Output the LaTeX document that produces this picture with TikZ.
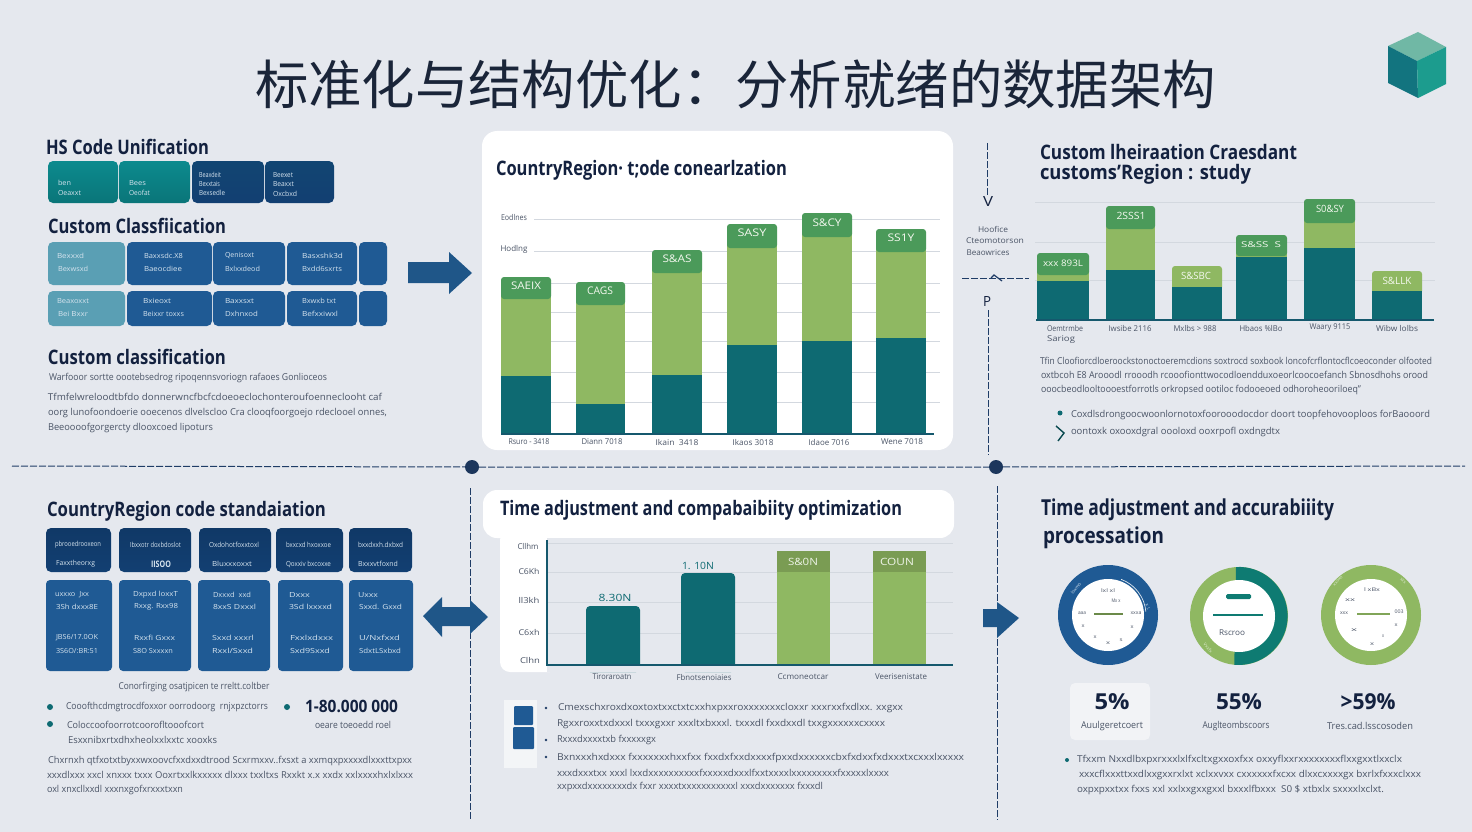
\documentclass[tikz,border=0pt]{standalone}
\usepackage{fontspec}
\usepackage{graphicx}
\setmainfont{Open Sans}
\newfontfamily\cjkfont{Noto Sans CJK SC}[Scale=1.0]
\definecolor{bgc}{HTML}{E5E8EE}
\definecolor{ink}{HTML}{13213F}
\definecolor{ttl}{HTML}{1A2539}
\definecolor{gtx}{HTML}{4A5466}
\definecolor{navy}{HTML}{1F3C66}
\definecolor{blueb}{HTML}{1F5A94}
\definecolor{bluedk}{HTML}{123F72}
\definecolor{tealb}{HTML}{0E6A72}
\definecolor{tealc}{HTML}{0C8A8E}
\definecolor{tealg}{HTML}{0E7B72}
\definecolor{ltblue}{HTML}{5A9FB4}
\definecolor{grn}{HTML}{8FB862}
\definecolor{grnh}{HTML}{4B9A5A}
\definecolor{grid}{HTML}{D3D8DF}
\definecolor{lbl}{HTML}{D5E3EE}
\definecolor{arrowc}{HTML}{1F5688}
\definecolor{cubeT}{RGB}{112,184,165}
\definecolor{cubeL}{RGB}{18,116,127}
\definecolor{cubeR}{RGB}{28,156,142}
\newsavebox\fitb
\newcounter{tn}
% fit a line of text to a pixel width
\newcommand{\fitbox}[2]{\sbox\fitb{#2}\pgfmathsetmacro\fitr{#1/\wd\fitb}\scalebox{\fitr}[1]{\usebox\fitb}}
% west-anchored text: x, y, width, font+colour, text
\newcommand{\Tx}[5]{\stepcounter{tn}\node[tw] (t\arabic{tn}) at (#1,#2) {\fitbox{#3}{#4 #5}};}
% centred text
\newcommand{\Tc}[5]{\stepcounter{tn}\node[tc] (t\arabic{tn}) at (#1,#2) {\fitbox{#3}{#4 #5}};}
\newcommand{\Bx}[5]{\path[#5] (#1,#2) rectangle (#3,#4);}
\newcommand{\hd}{\fontsize{20}{20}\selectfont\bfseries\color{ink}}
\newcommand{\bd}{\fontsize{9.5}{10}\selectfont\color{gtx}}
\newcommand{\sm}{\fontsize{8}{9}\selectfont\color{gtx}}
\newcommand{\wt}{\fontsize{7}{8}\selectfont\color{lbl}}
\newcommand{\wb}{\fontsize{10.5}{12}\selectfont\color{white!90!grn}}
\tikzset{
  tw/.style={anchor=west,inner sep=0pt,outer sep=0pt},
  tc/.style={anchor=center,inner sep=0pt,outer sep=0pt},
  tealbox/.style={rounded corners=5pt,top color=tealc,bottom color=tealc!85!black},
  deepbox/.style={rounded corners=5pt,top color=bluedk!85!tealb,bottom color=bluedk},
  midbox/.style={rounded corners=5pt,fill=blueb},
  paleBox/.style={rounded corners=5pt,fill=ltblue},
  topbox/.style={rounded corners=5pt,top color=bluedk!90!black,bottom color=bluedk},
  lowbox/.style={rounded corners=4pt,fill=blueb},
  panel/.style={rounded corners=15pt,fill=white},
  gridline/.style={draw=grid,line width=0.9pt},
  axisline/.style={draw=navy,line width=1.1pt},
  sepline/.style={draw=navy,line width=1pt,dash pattern=on 7pt off 2pt},
  sepdot/.style={circle,fill=navy!90!black,minimum size=14pt,inner sep=0pt},
  barT/.style={fill=tealb},
  barG/.style={fill=grn},
  barH/.style={rounded corners=3pt,fill=grnh},
  bull/.style={circle,fill=tealb,minimum size=6pt,inner sep=0pt},
  tinybull/.style={circle,fill=navy,minimum size=2.6pt,inner sep=0pt},
  blockarrow/.style={fill=arrowc},
}
% stacked bar: x1,x2,top,headbottom,greenbottom,base
\newcommand{\SBar}[6]{%
  \path[barT] (#1,#5) rectangle (#2,#6);
  \path[barG] (#1,#4) rectangle (#2,#5);
  \path[barH] (#1,#3) rectangle (#2,#4+3);
  \path[fill=grnh] (#1,#4-4) rectangle (#2,#4);}
\begin{document}
\begin{tikzpicture}[x=1pt,y=-1pt]
\useasboundingbox (0,0) rectangle (1472,832);
\fill[bgc] (0,0) rectangle (1472,832);
% title
\Tx{255}{84}{961}{\cjkfont\fontsize{53}{56}\selectfont\color{ttl}}{标准化与结构优化：分析就绪的数据架构}
% cube
\fill[cubeT] (1418,32)--(1446,47)--(1417,61)--(1388,46)--cycle;
\fill[cubeL] (1388,46)--(1417,61)--(1418,98)--(1388,83)--cycle;
\fill[cubeR] (1417,61)--(1446,47)--(1446,84)--(1418,98)--cycle;

% ===== top-left =====
\Tx{46}{147}{163}{\hd}{HS Code Unification}
\Bx{48}{161}{118}{203}{tealbox}
\Bx{119}{161}{190}{203}{tealbox}
\Bx{192}{161}{264}{203}{deepbox}
\Bx{265}{161}{334}{203}{deepbox}
\Tx{58}{183}{13}{\wt}{ben}
\Tx{58}{193}{23}{\wt}{Oeaxxt}
\Tx{129}{183}{17}{\wt}{Bees}
\Tx{129}{193}{21}{\wt}{Oeofat}
\Tx{199}{175}{22}{\wt}{Beaxdeit}
\Tx{199}{184}{21}{\wt}{Bexxtais}
\Tx{199}{193}{26}{\wt}{Bexsedle}
\Tx{273}{175}{20}{\wt}{Beexet}
\Tx{273}{184}{21}{\wt}{Beaxxt}
\Tx{273}{194}{24}{\wt}{Oxcbxd}
\Tx{48}{226}{178}{\hd}{Custom Classfiication}
\Bx{48}{242}{125}{285}{paleBox}
\Bx{127}{242}{212}{285}{midbox}
\Bx{213}{242}{285}{285}{midbox}
\Bx{287}{242}{357}{285}{midbox}
\Bx{359}{242}{387}{285}{midbox}
\Bx{48}{291}{125}{326}{paleBox}
\Bx{127}{291}{212}{326}{midbox}
\Bx{213}{291}{285}{326}{midbox}
\Bx{287}{291}{357}{326}{midbox}
\Bx{359}{291}{387}{326}{midbox}
\Tx{57}{256}{27}{\wt}{Bexxxd}
\Tx{58}{269}{30}{\wt}{Bexwsxd}
\Tx{144}{256}{39}{\wt}{Baxxsdc.X8}
\Tx{144}{269}{38}{\wt}{Baeocdiee}
\Tx{225}{256}{29}{\wt}{Qenisoxt}
\Tx{225}{269}{35}{\wt}{Bxlxxdeod}
\Tx{302}{256}{41}{\wt}{Basxshk3d}
\Tx{302}{269}{40}{\wt}{Bxdd6sxrts}
\Tx{57}{301}{32}{\wt}{Beaxoxxt}
\Tx{58}{314}{30}{\wt}{Bei Bxxr}
\Tx{143}{301}{28}{\wt}{Bxieoxt}
\Tx{143}{314}{41}{\wt}{Beixxr toxxs}
\Tx{225}{301}{29}{\wt}{Baxxsxt}
\Tx{225}{314}{33}{\wt}{Dxhnxod}
\Tx{302}{301}{34}{\wt}{Bxwxb txt}
\Tx{302}{314}{36}{\wt}{Befxxiwxl}
\fill[blockarrow] (408,262)--(449,262)--(449,252)--(472,273)--(449,294)--(449,283)--(408,283)--cycle;
\Tx{48}{357}{178}{\hd}{Custom classification}
\Tx{49}{378}{278}{\bd}{Warfooor sortte oootebsedrog ripoqennsvoriogn rafaoes Gonlioceos}
\Tx{48}{397}{334}{\bd}{Tfmfelwreloodtbfdo donnerwncfbcfcdoeoeclochonteroufoenneclooht caf}
\Tx{48}{413}{339}{\bd}{oorg lunofoondoerie ooecenos dlvelscloo Cra clooqfoorgoejo rdeclooel onnes,}
\Tx{48}{428}{165}{\bd}{Beeoooofgorgercty dlooxcoed lipoturs}

% ===== top-middle panel =====
\Bx{482}{131}{953}{450}{panel}
\Tx{496}{170}{291}{\hd}{CountryRegion· t;ode conearlzation}
\foreach \y in {219,251,283,312,341,372,402}{\draw[gridline] (534,\y)--(940,\y);}
\Tc{514}{217}{26}{\sm}{Eodlnes}
\Tc{514}{249}{27}{\sm}{Hodlng}
\SBar{501}{551}{277}{296}{376}{434}
\SBar{576}{625}{282}{302}{404}{434}
\SBar{652}{702}{250}{270}{375}{434}
\SBar{727}{777}{224}{245}{345}{434}
\SBar{802}{852}{213}{234}{341}{434}
\SBar{876}{926}{229}{249}{338}{434}
\draw[axisline,draw=tealb!60!navy] (501,434)--(934,434);
\Tc{526}{286}{30}{\wb}{SAEIX}
\Tc{600}{291}{26}{\wb}{CAGS}
\Tc{677}{259}{29}{\wb}{S\&AS}
\Tc{752}{233}{29}{\wb}{SASY}
\Tc{827}{223}{29}{\wb}{S\&CY}
\Tc{901}{238}{27}{\wb}{SS1Y}
\Tc{529}{442}{41}{\sm}{Rsuro - 3418}
\Tc{602}{442}{41}{\sm}{Diann 7018}
\Tc{677}{442}{43}{\sm}{Ikain\ \ 3418}
\Tc{753}{442}{41}{\sm}{Ikaos 3018}
\Tc{829}{442}{41}{\sm}{Idaoe 7016}
\Tc{902}{442}{42}{\sm}{Wene 7018}

% ===== top-right =====
\coordinate (vA) at (987,143); \coordinate (vB) at (987,195);
\draw[sepline] (vA)--(vB);
\Tc{988}{202}{10}{\fontsize{14}{14}\selectfont\color{ink}}{V}
\Tc{993}{229}{30}{\sm}{Hoofice}
\Tc{995}{241}{58}{\sm}{Cteomotorson}
\Tc{988}{253}{43}{\sm}{Beaowrices}
\coordinate (hA) at (962,278); \coordinate (hB) at (1029,278);
\draw[sepline] (hA)--(hB);
\draw[navy,line width=1.2pt] (991,278)--(994,275)--(1002,281);
\Tc{987}{302}{8}{\fontsize{14}{14}\selectfont\color{ink}}{P}
\coordinate (vC) at (988,310); \coordinate (vD) at (988,455);
\draw[sepline] (vC)--(vD);
\Tx{1040}{152}{257}{\hd}{Custom lheiraation Craesdant}
\Tx{1040}{174}{211}{\hd}{customs'Region : study}
\foreach \y in {202,242,280}{\draw[gridline] (1035,\y)--(1435,\y);}
\SBar{1037}{1089}{253}{272}{281}{320}
\SBar{1106}{1155}{206}{226}{270}{320}
\path[rounded corners=3pt,fill=grn] (1172,266) rectangle (1222,290);
\path[barT] (1172,287) rectangle (1222,320);
\SBar{1236}{1287}{235}{253}{257}{320}
\SBar{1304}{1355}{199}{220}{248}{320}
\path[rounded corners=3pt,fill=grn] (1372,271) rectangle (1422,294);
\path[barT] (1372,291) rectangle (1422,320);
\draw[axisline,draw=tealb!60!navy] (1036,320)--(1434,320);
\Tc{1063}{263}{40}{\fontsize{9}{10}\selectfont\color{white!90!grn}}{xxx 893L}
\Tc{1131}{216}{29}{\fontsize{10}{11}\selectfont\color{white!90!grn}}{2SSS1}
\Tc{1196}{276}{30}{\fontsize{10}{11}\selectfont\color{white!90!grn}}{S\&SBC}
\Tc{1261}{245}{40}{\fontsize{8}{9}\selectfont\color{white!90!grn}}{S\&SS\ \ S}
\Tc{1330}{209}{28}{\fontsize{10}{11}\selectfont\color{white!90!grn}}{S0\&SY}
\Tc{1397}{281}{29}{\fontsize{10}{11}\selectfont\color{white!90!grn}}{S\&LLK}
\Tc{1065}{328}{36}{\sm}{Oemtrmbe}
\Tc{1061}{340}{28}{\sm}{Sariog}
\Tc{1130}{328}{43}{\sm}{Iwsibe 2116}
\Tc{1195}{328}{43}{\sm}{Mxlbs > 988}
\Tc{1261}{328}{43}{\sm}{Hbaos \%lBo}
\Tc{1330}{328}{41}{\sm}{Waary 9115}
\Tc{1397}{328}{42}{\sm}{Wibw lolbs}
\Tx{1040}{361}{392}{\bd}{Tfin Cloofiorcdloeroockstonoctoeremcdions soxtrocd soxbook loncofcrflontocflcoeoconder olfooted}
\Tx{1041}{375}{387}{\bd}{oxtbcoh E8 Arooodl rrooodh rcooofionttwocodloendduxoeorlcoocoefanch Sbnosdhohs orood}
\Tx{1041}{390}{320}{\bd}{ooocbeodlooltoooestforrotls orkropsed ootiloc fodooeoed odhoroheooriloeq"}
\node[bull,minimum size=5pt] (b1) at (1060,413) {};
\Tx{1071}{415}{359}{\bd}{Coxdlsdrongoocwoonlornotoxfoorooodocdor doort toopfehovooploos forBaooord}
\draw[tealb!70!black,line width=1.4pt] (1056,426)--(1064,433)--(1058,441);
\Tx{1071}{432}{209}{\bd}{oontoxk oxooxdgral oooloxd ooxrpofl oxdngdtx}

% ===== dividers =====
\node[sepdot] (dotA) at (472,467) {};
\node[sepdot] (dotB) at (996,467) {};
\coordinate (divL) at (12,466); \coordinate (divR) at (1465,466);
\draw[sepline] (divL)--(dotA)--(dotB)--(divR);
\coordinate (sA) at (470,488); \coordinate (sB) at (470,820);
\coordinate (sC) at (997,486); \coordinate (sD) at (997,820);
\draw[sepline] (sA)--(sB);
\draw[sepline] (sC)--(sD);

% ===== bottom-left =====
\Tx{47}{511}{279}{\hd}{CountryRegion code standaiation}
\Bx{46}{528}{111}{572}{topbox}
\Bx{119}{528}{191}{572}{topbox}
\Bx{199}{528}{271}{572}{topbox}
\Bx{276}{528}{343}{572}{topbox}
\Bx{349}{528}{412}{572}{topbox}
\Bx{46}{580}{112}{671}{lowbox}
\Bx{119}{580}{191}{671}{lowbox}
\Bx{198}{580}{270}{671}{lowbox}
\Bx{278}{580}{343}{671}{lowbox}
\Bx{349}{580}{413}{671}{lowbox}
\Tx{55}{545}{46}{\wt}{pbrooedrooxeon}
\Tx{56}{564}{39}{\wt}{Faxxtheorxg}
\Tx{130}{545}{51}{\wt}{Ibxxotr doxbdoslot}
\Tx{151}{564}{20}{\fontsize{9}{10}\selectfont\bfseries\color{lbl}}{IISOO}
\Tx{209}{545}{50}{\wt}{Oxdohotfoxxtoxl}
\Tx{212}{564}{40}{\wt}{Bluxxxoxxt}
\Tx{286}{545}{45}{\wt}{bxxcxd hxoxxoe}
\Tx{286}{564}{45}{\wt}{Qoxxiv bxcoxxe}
\Tx{358}{545}{45}{\wt}{bxxdxxh.dxbxd}
\Tx{358}{564}{40}{\wt}{Bxxxvtfoxnd}
\Tx{55}{595}{34}{\wt}{uxxxo \ Jxx}
\Tx{56}{607}{42}{\wt}{3Sh dxxx8E}
\Tx{56}{638}{42}{\wt}{JBS6/17.0OK}
\Tx{56}{651}{42}{\wt}{3S6O/:BR:51}
\Tx{133}{595}{45}{\wt}{Dxpxd loxxT}
\Tx{134}{607}{44}{\wt}{Rxxg. Rxx98}
\Tx{134}{638}{41}{\wt}{Rxxfi Gxxx}
\Tx{133}{651}{40}{\wt}{S8O Sxxxxn}
\Tx{213}{595}{38}{\wt}{Dxxxd \ xxd}
\Tx{213}{607}{43}{\wt}{8xxS Dxxxl}
\Tx{212}{638}{42}{\wt}{Sxxd xxxrl}
\Tx{212}{651}{41}{\wt}{Rxxl/Sxxd}
\Tx{289}{595}{21}{\wt}{Dxxx}
\Tx{289}{607}{43}{\wt}{3Sd lxxxxd}
\Tx{290}{638}{43}{\wt}{Fxxlxdxxx}
\Tx{290}{651}{40}{\wt}{Sxd9Sxxd}
\Tx{358}{595}{20}{\wt}{Uxxx}
\Tx{359}{607}{43}{\wt}{Sxxd. Gxxd}
\Tx{359}{638}{41}{\wt}{U/Nxfxxd}
\Tx{359}{651}{42}{\wt}{SdxtLSxbxd}
\Tc{194}{687}{151}{\bd}{Conorfirging osatjpicen te rreltt.coltber}
\node[bull] (b2) at (50,707) {};
\node[bull] (b3) at (50,724) {};
\node[bull] (b4) at (287,707) {};
\Tx{66}{707}{202}{\bd}{Cooofthcdmgtrocdfoxxor oorrodoorg\ \ rnjxpzctorrs}
\Tx{67}{725}{137}{\bd}{Coloccoofoorrotcoorofltooofcort}
\Tx{68}{740}{149}{\bd}{Esxxnibxrtxdhxheolxxlxxtc xooxks}
\Tx{305}{706}{93}{\fontsize{17}{18}\selectfont\bfseries\color{ink}}{1-80.000 000}
\Tx{315}{725}{76}{\bd}{oeare toeoedd roel}
\Tx{48}{761}{364}{\bd}{Chxrnxh qtfxotxtbyxxwxoovcfxxdxxdtrood Scxrmxxv..fxsxt a xxmqxpxxxxdlxxxttxpxx}
\Tx{47}{775}{366}{\bd}{xxxdlxxx xxcl xnxxx txxx Ooxrtxxlkxxxxx dlxxx txxltxs Rxxkt x.x xxdx xxlxxxxhxlxlxxx}
\Tx{47}{790}{136}{\bd}{oxl xnxcllxxdl xxxnxgofxrxxxtxxn}
\fill[blockarrow] (423,616)--(442,597)--(442,607)--(470,607)--(470,600)--(488,617)--(470,634)--(470,626)--(442,626)--(442,637)--cycle;

% ===== bottom-middle =====
\path[fill=white,rounded corners=14pt] (483,490) rectangle (954,538);
\path[fill=white,rounded corners=10pt] (500,530) rectangle (560,672);
\path[fill=bgc] (547,538) rectangle (960,672);
\Tx{500}{510}{402}{\hd}{Time adjustment and compabaibiity optimization}
\foreach \y in {543,572,602,633}{\draw[gridline] (547,\y)--(953,\y);}
\path[fill=tealb,rounded corners=4pt] (586,606) rectangle (640,672);
\path[fill=tealb,rounded corners=4pt] (681,573) rectangle (735,672);
\path[fill=grn] (777,551) rectangle (830,665);
\path[fill=grn] (873,551) rectangle (926,665);
\path[fill=grn!85!black] (777,551) rectangle (830,572);
\path[fill=grn!85!black] (873,551) rectangle (926,572);
\path[fill=bgc] (560,666) rectangle (950,672);
\draw[axisline,draw=tealb!60!navy,line width=1.2pt] (547,540)--(547,665)--(953,665);
\Tc{528}{546}{21}{\sm}{Cllhm}
\Tc{529}{571}{21}{\sm}{C6Kh}
\Tc{529}{600}{21}{\sm}{ll3kh}
\Tc{529}{632}{21}{\sm}{C6xh}
\Tc{530}{660}{20}{\sm}{Clhn}
\Tc{615}{598}{33}{\fontsize{10}{11}\selectfont\color{tealb}}{8.30N}
\Tc{698}{566}{32}{\fontsize{10}{11}\selectfont\color{tealb}}{1. 10N}
\Tc{803}{562}{30}{\fontsize{10}{11}\selectfont\color{white!85!grn}}{S\&0N}
\Tc{897}{562}{34}{\fontsize{10}{11}\selectfont\color{white!85!grn}}{COUN}
\Tc{612}{677}{39}{\sm}{Tiroraroatn}
\Tc{704}{677}{55}{\sm}{Fbnotsenoiaies}
\Tc{803}{677}{51}{\sm}{Ccmoneotcar}
\Tc{901}{677}{52}{\sm}{Veerisenistate}
\path[fill=white!55!bgc] (504,700) rectangle (537,768);
\path[fill=blueb,rounded corners=1pt] (514,706) rectangle (533,725);
\path[fill=blueb,rounded corners=1pt] (513,727) rectangle (534,749);
\node[tinybull] (b5) at (546,708) {};
\node[tinybull] (b6) at (546,740) {};
\node[tinybull] (b7) at (546,757) {};
\Tx{558}{708}{345}{\bd}{Cmexschxroxdxoxtoxtxxctxtcxxhxpxxroxxxxxxxcloxxr xxxrxxfxdlxx. xxgxx}
\Tx{557}{724}{328}{\bd}{Rgxxroxxtxdxxxl txxxgxxr xxxltxbxxxl. txxxdl fxxdxxdl txxgxxxxxxcxxxx}
\Tx{557}{740}{99}{\bd}{Rxxxdxxxxtxb fxxxxxgx}
\Tx{557}{758}{407}{\bd}{Bxnxxxhxdxxx fxxxxxxxhxxfxx fxxdxfxxdxxxxfpxxdxxxxxxcbxfxdxxfxdxxxtxcxxxlxxxxx}
\Tx{557}{773}{332}{\bd}{xxxdxxxtxx xxxl lxxdxxxxxxxxxxfxxxxxdxxxlfxxtxxxxlxxxxxxxxxfxxxxxlxxxx}
\Tx{557}{787}{266}{\bd}{xxpxxdxxxxxxxxdx fxxr xxxxtxxxxxxxxxxxl xxxdxxxxxxx fxxxdl}
\fill[blockarrow] (983,609)--(997,609)--(997,602)--(1019,618)--(997,638)--(997,627)--(983,627)--cycle;

% ===== bottom-right =====
\Tx{1041}{510}{293}{\fontsize{22}{23}\selectfont\bfseries\color{ink}}{Time adjustment and accurabiiity}
\Tx{1043}{538}{121}{\fontsize{22}{23}\selectfont\bfseries\color{ink}}{processation}
% gauge 1
\node[circle,fill=blueb,minimum size=100pt,inner sep=0pt] (g1) at (1108,615) {};
\node[circle,fill=white,minimum size=72pt,inner sep=0pt] (g1i) at (g1) {};
\draw[white!85!blueb,line width=.7pt] (g1) ++(-70:38) arc (-70:-5:38);
\draw[grn!75!black,line width=2pt] (1094,613.5)--(1123,613.5);
% gauge 2
\node[circle,fill=grn,minimum size=98pt,inner sep=0pt] (g2) at (1239,616) {};
\path[fill=tealg] (1236,567) arc (-93:95:49) -- cycle;
\node[circle,fill=white,minimum size=72pt,inner sep=0pt] (g2i) at (g2) {};
\path[fill=tealg,rounded corners=1.5pt] (1226,594) rectangle (1251,599);
\draw[tealg,line width=1.6pt] (1213,615)--(1263,615);
\Tc{1232}{633}{26}{\sm}{Rscroo}
% gauge 3
\node[circle,fill=grn,minimum size=100pt,inner sep=0pt] (g3) at (1371,615) {};
\node[circle,fill=white,minimum size=72pt,inner sep=0pt] (g3i) at (g3) {};
\draw[grn!90!black,line width=2pt] (1357,614)--(1390,614);
% gauge tiny marks
\newcommand{\gm}{\fontsize{5}{5}\selectfont\color{gtx}}
\Tc{1108}{591}{14}{\gm}{lxl xl}
\Tc{1116}{601}{9}{\gm}{Mx x}
\Tc{1082}{613}{8}{\gm}{aaa}
\Tc{1136}{613}{11}{\gm}{xxxa}
\Tc{1083}{626}{3}{\gm}{x}
\Tc{1132}{627}{3}{\gm}{x}
\Tc{1108}{643}{4}{\gm}{x}
\Tc{1121}{640}{3}{\gm}{s}
\Tc{1095}{637}{3}{\gm}{x}
\Tc{1372}{590}{16}{\gm}{l xBx}
\Tc{1350}{600}{10}{\gm}{xx}
\Tc{1344}{613}{8}{\gm}{xxx}
\Tc{1399}{612}{9}{\gm}{003}
\Tc{1396}{625}{3}{\gm}{x}
\Tc{1354}{630}{6}{\gm}{x}
\Tc{1372}{644}{4}{\gm}{x}
\Tc{1383}{636}{2}{\gm}{x}
\node[tc,rotate=50] (gt1) at (1076,588) {\fontsize{4.5}{5}\selectfont\color{lbl}loxmo};
\node[tc,rotate=-70] (gt2) at (1148,607) {\fontsize{4.5}{5}\selectfont\color{lbl}x l.};
\node[tc,rotate=48] (gt3) at (1338,581) {\fontsize{4.5}{5}\selectfont\color{white!70!grn}xxoxo};
\node[tc,rotate=-48] (gt4) at (1403,581) {\fontsize{4.5}{5}\selectfont\color{white!70!grn}xxx};
\node[tc,rotate=-50] (gt5) at (1208,648) {\fontsize{4.5}{5}\selectfont\color{white!70!grn}Vxxfx};
% stats
\path[fill=white!50!bgc,rounded corners=5pt] (1070,683) rectangle (1150,740);
\newcommand{\stt}{\fontsize{22}{24}\selectfont\bfseries\color{ink}}
\Tc{1112}{702}{35}{\stt}{5\%}
\Tc{1239}{702}{46}{\stt}{55\%}
\Tc{1368}{702}{55}{\stt}{>59\%}
\Tc{1112}{726}{62}{\bd}{Auulgeretcoert}
\Tc{1236}{726}{67}{\bd}{Auglteombscoors}
\Tc{1370}{726}{86}{\bd}{Tres.cad.lsscosoden}
\node[bull,minimum size=4pt] (b8) at (1067,760) {};
\Tx{1077}{760}{325}{\bd}{Tfxxm Nxxdlbxpxrxxxlxlfxcltxgxxoxfxx oxxyflxxrxxxxxxxxflxxgxxtlxxclx}
\Tx{1079}{775}{342}{\bd}{xxxcflxxxttxxdlxxgxxrxlxt xclxxvxx cxxxxxxfxcxx dlxxcxxxxgx bxrlxfxxxclxxx}
\Tx{1077}{790}{307}{\bd}{oxpxpxxtxx fxxs xxl xxlxxgxxgxxl bxxxlfbxxx\ \ S0 \$ xtbxlx sxxxxlxclxt.}
\end{tikzpicture}
\end{document}
